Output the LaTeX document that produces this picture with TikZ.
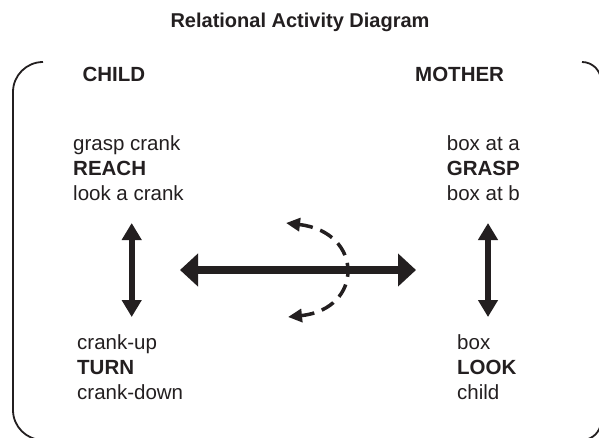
\documentclass[tikz,border=0pt]{standalone}
\usepackage{fontspec}
\setmainfont{Liberation Sans}
\usetikzlibrary{arrows.meta}
\definecolor{ink}{HTML}{231F20}
\begin{document}
\begin{tikzpicture}[x=1pt,y=1pt,
  lbl/.style={anchor=base west, inner sep=0pt, text=ink, font=\fontsize{20.5}{25}\selectfont},
  blbl/.style={lbl, font=\fontsize{20.5}{25}\selectfont\bfseries},
  framepath/.style={line width=1.8pt, draw=ink},
  bigarrow/.style={draw=ink, line width=8pt, {Triangle[length=18pt,width=32pt]}-{Triangle[length=18pt,width=32pt]}},
  vertarrow/.style={draw=ink, line width=6pt, {Triangle[length=17pt,width=19pt]}-{Triangle[length=17pt,width=19pt]}},
  dasharrow/.style={draw=ink, line width=3.5pt, dash pattern=on 14pt off 8pt, {Triangle[length=14pt,width=13pt]}-{Triangle[length=14pt,width=13pt]}}
]
\useasboundingbox (0,0) rectangle (599,-437);
\fill[white] (0,0) rectangle (599,-437);
\begin{scope}
\clip (0,0) rectangle (599,-437);
\draw[framepath] (43,-62) arc[start angle=90,end angle=180,radius=30] -- (13,-410) arc[start angle=180,end angle=270,radius=30];
\draw[framepath] (582,-62) arc[start angle=90,end angle=0,radius=19] -- (601,-421) arc[start angle=0,end angle=-90,radius=19];
\end{scope}

\node[anchor=base, inner sep=0pt, text=ink, font=\fontsize{20}{24}\selectfont\bfseries] (title) at (300,-27.7) {Relational Activity Diagram};

\node[blbl] (child) at (82.3,-81.7) {CHILD};
\node[blbl] (mother) at (415,-81.7) {MOTHER};

\node[lbl]  (c1) at (73,-150) {grasp crank};
\node[blbl] (c2) at (73,-175) {REACH};
\node[lbl]  (c3) at (73,-200) {look a crank};

\node[lbl]  (m1) at (446.7,-150) {box at a};
\node[blbl] (m2) at (446.7,-175) {GRASP};
\node[lbl]  (m3) at (446.7,-200) {box at b};

\node[lbl]  (c4) at (77,-349) {crank-up};
\node[blbl] (c5) at (77,-374) {TURN};
\node[lbl]  (c6) at (77,-399) {crank-down};

\node[lbl]  (m4) at (457,-349) {box};
\node[blbl] (m5) at (457,-374) {LOOK};
\node[lbl]  (m6) at (457,-399) {child};

\coordinate (lt) at (131.7,-223);
\coordinate (lb) at (131.7,-317);
\coordinate (rt) at (488,-223);
\coordinate (rb) at (488,-317);
\coordinate (hl) at (180,-270);
\coordinate (hr) at (416,-270);
\coordinate (dt) at (286,-223);
\coordinate (db) at (288,-317);

\draw[vertarrow] (lt) -- (lb);
\draw[vertarrow] (rt) -- (rb);
\draw[bigarrow] (hl) -- (hr);
\draw[dasharrow] (dt) .. controls (364,-232) and (364,-309) .. (db);
\end{tikzpicture}
\end{document}
